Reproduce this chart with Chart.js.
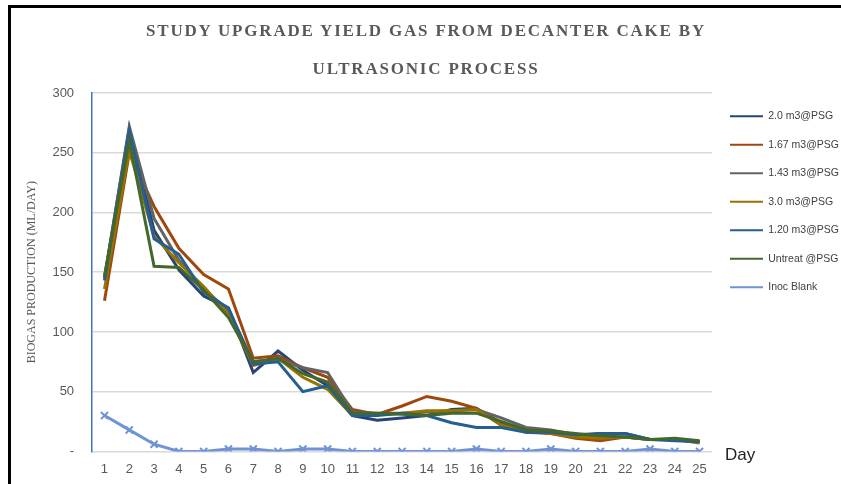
<!DOCTYPE html>
<html lang="en">
<head>
<meta charset="UTF-8">
<title>Study upgrade yield gas from decanter cake by ultrasonic process</title>
<script src="https://cdn.jsdelivr.net/npm/chart.js"></script>
<style>
    html, body { margin: 0; padding: 0; background: #fff; }
    #wrap { position: relative; width: 841px; height: 484px; overflow: hidden; }
    #frame { position: absolute; left: 8px; top: 5px; width: 840px; height: 500px; border-left: 3px solid #000; border-top: 3px solid #000; }
    #title { position: absolute; left: 0; top: 12px; width: 852px; text-align: center;
             font: bold 17px "Liberation Serif", serif; letter-spacing: 1.8px; color: #595959; line-height: 38px; }
    #day { position: absolute; left: 725px; top: 445px; font: 17px "Liberation Sans", sans-serif; color: #222; }
    canvas { position: absolute; left: 0; top: 0; }
</style>
</head>
<body>
<div id="wrap">
    <div id="frame"></div>
    <canvas id="chart" width="841" height="484"></canvas>
    <div id="title">STUDY UPGRADE YIELD GAS FROM DECANTER CAKE BY<br>ULTRASONIC PROCESS</div>
    <div id="day">Day</div>
</div>

<script>
    const days = ["1","2","3","4","5","6","7","8","9","10","11","12","13","14","15","16","17","18","19","20","21","22","23","24","25"];
    const seriesNames = ["2.0 m3@PSG", "1.67 m3@PSG", "1.43 m3@PSG", "3.0 m3@PSG", "1.20 m3@PSG", "Untreat @PSG", "Inoc Blank"];
    const s20  = [145, 270, 185, 152, 130, 120, 66, 84, 68, 55, 30, 26, 28, 30, 35, 36, 22, 17, 16, 13, 15, 15, 10, 10, 8];
    const s167 = [126, 250, 205, 170, 148, 136, 78, 80, 70, 62, 35, 31, 38, 46, 42, 36, 24, 16, 15, 11, 9, 12, 10, 10, 8];
    const s143 = [145, 272, 195, 160, 136, 118, 75, 77, 70, 66, 33, 32, 32, 33, 34, 35, 28, 20, 18, 14, 12, 12, 10, 10, 8];
    const s30  = [136, 252, 180, 158, 138, 115, 72, 78, 62, 52, 30, 31, 32, 34, 34, 35, 22, 17, 15, 12, 11, 12, 10, 10, 7];
    const s120 = [143, 268, 178, 165, 133, 120, 73, 75, 50, 55, 30, 30, 32, 30, 24, 20, 20, 16, 16, 14, 15, 15, 10, 9, 8];
    const sUnt = [147, 260, 155, 154, 135, 112, 75, 78, 65, 58, 32, 32, 31, 30, 32, 32, 25, 18, 17, 15, 13, 12, 10, 11, 9];
    const sBlank = [30, 18, 6, 0, 0, 2, 2, 0, 2, 2, 0, 0, 0, 0, 0, 2, 0, 0, 2, 0, 0, 0, 2, 0, 0];
    const yTicks = [0, 50, 100, 150, 200, 250, 300];

    const colors = ["#264478", "#9e480e", "#636363", "#997300", "#255e91", "#43682b", "#6f93d6"];
    const values = [s20, s167, s143, s30, s120, sUnt, sBlank];

    const datasets = values.map((v, i) => ({
        label: seriesNames[i],
        data: v,
        borderColor: colors[i],
        backgroundColor: colors[i],
        borderWidth: 3,
        tension: 0,
        pointRadius: i === 6 ? 5 : 0,
        pointStyle: i === 6 ? "crossRot" : "circle",
        pointBorderWidth: 2,
        order: 10 - i
    }));

    new Chart(document.getElementById("chart"), {
        type: "line",
        data: { labels: days, datasets: datasets },
        options: {
            responsive: false,
            animation: false,
            layout: { padding: { top: 93, left: 25, right: -8, bottom: 5 } },
            plugins: {
                tooltip: { enabled: false },
                legend: {
                    position: "right",
                    align: "start",
                    labels: {
                        usePointStyle: true,
                        pointStyle: "line",
                        pointStyleWidth: 33,
                        boxHeight: 14,
                        padding: 18,
                        color: "#404040",
                        font: { family: "Liberation Sans", size: 10.5 },
                        sort: (a, b) => a.datasetIndex - b.datasetIndex
                    }
                }
            },
            scales: {
                x: {
                    offset: true,
                    grid: { display: false },
                    border: { display: false },
                    ticks: { color: "#595959", font: { family: "Liberation Sans", size: 13 }, padding: 2, maxRotation: 0, autoSkip: false }
                },
                y: {
                    min: 0,
                    max: 300,
                    afterBuildTicks: (scale) => { scale.ticks = yTicks.map(v => ({ value: v })); },
                    grid: { color: "#d9d9d9", lineWidth: 1.5, drawTicks: false },
                    border: { display: true, color: "#4472c4", width: 1.5 },
                    ticks: {
                        color: "#595959",
                        font: { family: "Liberation Sans", size: 13 },
                        padding: 18,
                        callback: (v) => v === 0 ? "-" : v
                    },
                    title: {
                        display: true,
                        text: "BIOGAS PRODUCTION (ML/DAY)",
                        color: "#595959",
                        font: { family: "Liberation Serif", size: 12 },
                        padding: { top: 0, bottom: -5 }
                    }
                }
            }
        }
    });
</script>
</body>
</html>
